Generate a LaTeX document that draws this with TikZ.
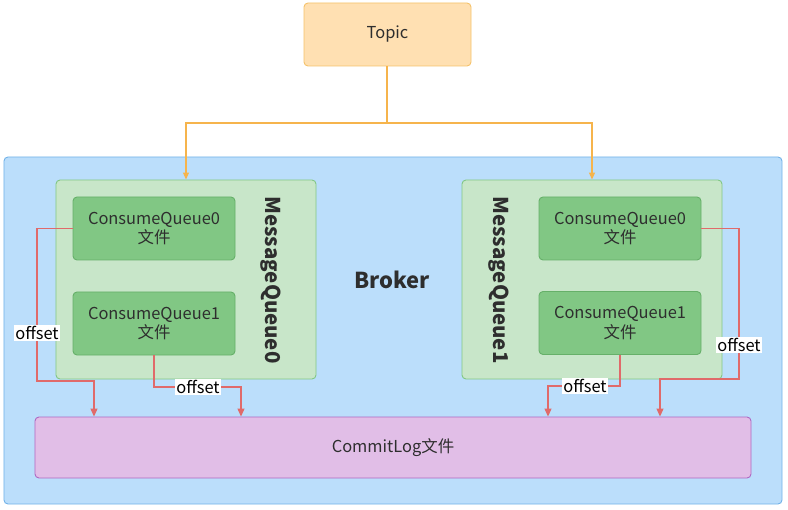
\documentclass[tikz,border=0pt]{standalone}
\usepackage{fontspec}
\setmainfont{Noto Sans CJK SC}
\usetikzlibrary{arrows.meta}
\definecolor{topicfill}{HTML}{FFE0B2}
\definecolor{topicdraw}{HTML}{F5C26B}
\definecolor{topicline}{HTML}{F6B44C}
\definecolor{brokerfill}{HTML}{BBDEFB}
\definecolor{brokerdraw}{HTML}{72B2E8}
\definecolor{mqfill}{HTML}{C8E6C9}
\definecolor{mqdraw}{HTML}{82C785}
\definecolor{cqfill}{HTML}{81C784}
\definecolor{cqdraw}{HTML}{66B069}
\definecolor{clfill}{HTML}{E1BEE7}
\definecolor{cldraw}{HTML}{AE68C2}
\definecolor{redline}{HTML}{E06A6A}
\definecolor{txt}{HTML}{2E2E2E}
\tikzset{
  box/.style={rectangle, rounded corners=4bp, line width=0.9bp, inner sep=0pt, text=txt, align=center},
  topicbox/.style={box, fill=topicfill, draw=topicdraw, minimum width=167bp, minimum height=63bp, font=\fontsize{16.5}{18}\selectfont},
  brokerbox/.style={box, fill=brokerfill, draw=brokerdraw, minimum width=778bp, minimum height=347bp},
  mqbox/.style={box, fill=mqfill, draw=mqdraw, minimum width=260bp, minimum height=199bp},
  cqbox/.style={box, fill=cqfill, draw=cqdraw, minimum width=162bp, minimum height=63bp, font=\fontsize{16.5}{20}\selectfont},
  clbox/.style={box, fill=clfill, draw=cldraw, minimum width=716bp, minimum height=61bp, font=\fontsize{16.5}{18}\selectfont},
  mqlabel/.style={rotate=-90, font=\bfseries\fontsize{20.5}{24}\selectfont, text=txt},
  lbl/.style={fill=white, inner sep=1.2bp, font=\fontsize{16.5}{18}\selectfont, text=black},
  topicarrow/.style={draw=topicline, line width=1.1bp, -{Triangle[length=7bp,width=6bp]}},
  offarrow/.style={draw=redline, line width=1.1bp, -{Triangle[length=8bp,width=7bp]}},
}
\begin{document}
\begin{tikzpicture}[x=1bp,y=-1bp]
\useasboundingbox (0,0) rectangle (788,510);
\node[brokerbox] (broker) at (393,330.5) {};
\node[topicbox] (topic) at (387.5,34.5) {Topic};
\node[mqbox] (mq0) at (186,279.5) {};
\node[mqbox] (mq1) at (592,279.5) {};
\node[cqbox] (cq00) at (154,228.5) {ConsumeQueue0\\文件};
\node[cqbox] (cq01) at (154,323.5) {ConsumeQueue1\\文件};
\node[cqbox] (cq10) at (620,228.5) {ConsumeQueue0\\文件};
\node[cqbox] (cq11) at (620,323) {ConsumeQueue1\\文件};
\node[mqlabel] (mq0t) at (271,280) {MessageQueue0};
\node[mqlabel] (mq1t) at (499,280) {MessageQueue1};
\node[font=\bfseries\fontsize{22}{26}\selectfont, text=txt] (brokert) at (392,280) {Broker};
\node[clbox] (cl) at (393,447.5) {CommitLog文件};
% topic connectors
\coordinate (tj) at (387,123);
\draw[draw=topicline, line width=1.1bp] (topic.south -| tj) -- (tj);
\draw[topicarrow] (tj) -| (mq0.north);
\draw[topicarrow] (tj) -| (mq1.north);
% offset connectors
\coordinate (a1) at (37,381);
\coordinate (e1) at (94,417);
\draw[offarrow] (cq00.west) -| (a1) -| (cl.north -| e1);
\coordinate (b1) at (241,387);
\draw[offarrow] (cq01.south) |- (b1) -- (cl.north -| b1);
\coordinate (c1) at (739,379);
\coordinate (f1) at (660,417);
\draw[offarrow] (cq10.east) -| (c1) -| (cl.north -| f1);
\coordinate (d1) at (548,386);
\draw[offarrow] (cq11.south) |- (d1) -- (cl.north -| d1);
% labels
\node[lbl] (o1) at (37,333) {offset};
\node[lbl] (o2) at (198,387) {offset};
\node[lbl] (o3) at (739,345) {offset};
\node[lbl] (o4) at (585,386) {offset};
\end{tikzpicture}
\end{document}
